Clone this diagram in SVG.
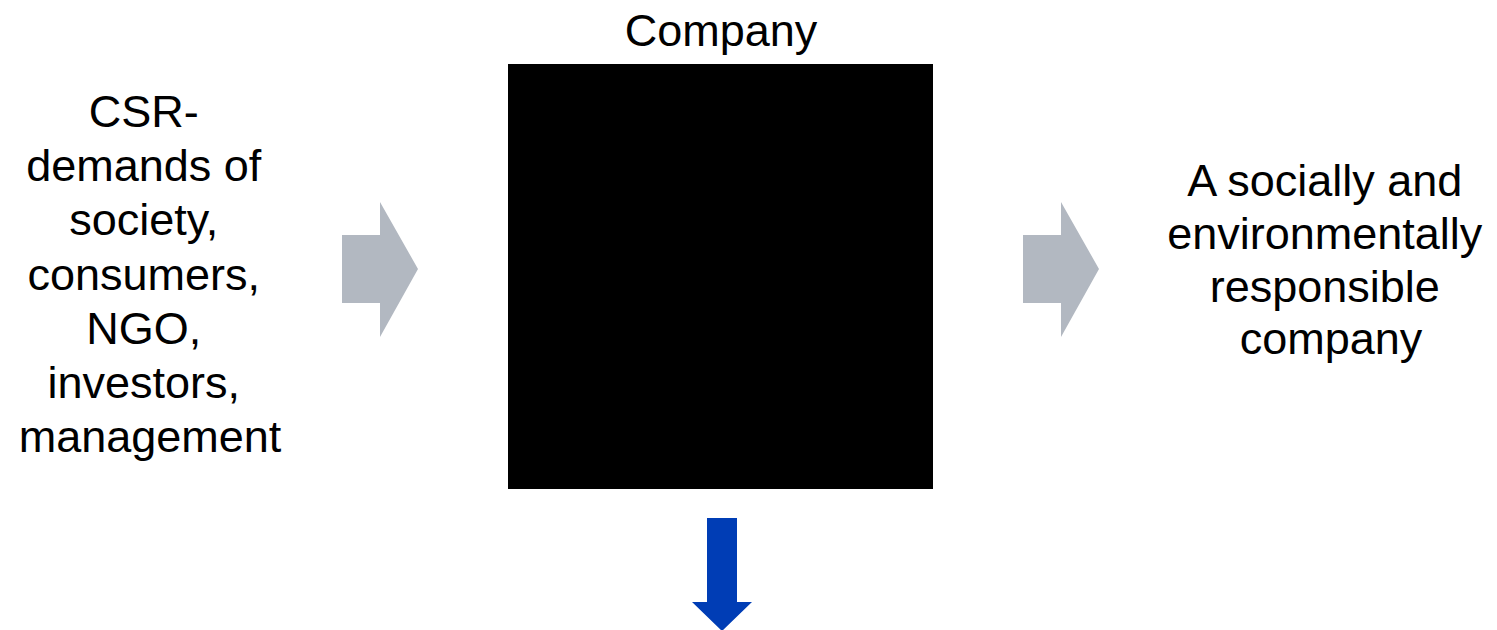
<svg xmlns="http://www.w3.org/2000/svg" width="1497" height="630" viewBox="0 0 1497 630">
  <style>
    .label { font-family: "Liberation Sans", Arial, sans-serif; font-size: 45px; fill: #000; text-anchor: middle; }
    .flow { fill: #B2B8C1; }
    .down { fill: #003DB5; }
  </style>
  <rect width="1497" height="630" fill="#fff"/>

  <g id="inputs">
    <text class="label">
      <tspan x="150" y="127">CSR-</tspan>
      <tspan x="150" y="181">demands of</tspan>
      <tspan x="150" y="235">society,</tspan>
      <tspan x="150" y="290">consumers,</tspan>
      <tspan x="150" y="344">NGO,</tspan>
      <tspan x="150" y="398">investors,</tspan>
      <tspan x="150" y="452">management</tspan>
    </text>
  </g>

  <g id="company">
    <text class="label" x="721" y="46">Company</text>
    <rect x="508" y="64" width="425" height="425" fill="#000"/>
  </g>

  <g id="outcome">
    <text class="label">
      <tspan x="1331" y="196">A socially and</tspan>
      <tspan x="1331" y="249">environmentally</tspan>
      <tspan x="1331" y="302">responsible</tspan>
      <tspan x="1331" y="354">company</tspan>
    </text>
  </g>

  <g id="connectors">
    <polygon class="flow" points="342,235 380,235 380,202 418,269 380,337 380,303 342,303"/>
    <polygon class="flow" points="1023,235 1061,235 1061,202 1099,269 1061,337 1061,303 1023,303"/>
    <polygon class="down" points="707,518 737,518 737,602 752,602 722,631 692,602 707,602"/>
  </g>
</svg>
